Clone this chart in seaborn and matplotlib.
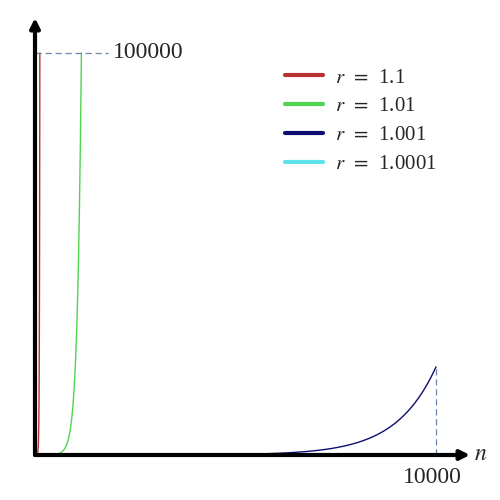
import numpy as np
import pandas as pd
import seaborn as sns
import matplotlib.pyplot as plt
from matplotlib.lines import Line2D

# Growth ratios shown in the legend and the plotted domain
r_values = [1.1, 1.01, 1.001, 1.0001]
labels = [r"$r\ \,=\ \,$1.1", r"$r\ \,=\ \,$1.01",
          r"$r\ \,=\ \,$1.001", r"$r\ \,=\ \,$1.0001"]
colors = ["#b83232", "#4fd44f", "#0d0d70", "#5fe3ea"]
n_max = 10000
y_cap = 100000

sns.set_style("white")
plt.rcParams["font.family"] = ["Liberation Serif", "DejaVu Serif"]
plt.rcParams["mathtext.fontset"] = "stix"

# Build long-form table: y = r**n, cut where it leaves the top of the chart
rows = []
for r, lab in zip(r_values, labels):
    n_top = min(n_max, np.log(y_cap) / np.log(r))
    n = np.append(np.arange(0, int(n_top) + 1, 1.0), n_top)
    rows.append(pd.DataFrame({"n": n, "y": np.power(r, n), "label": lab}))
df = pd.concat(rows, ignore_index=True)

fig = plt.figure(figsize=(5, 5), dpi=100)
ax = fig.add_axes([0.07, 0.09, 0.87, 0.874])

sns.lineplot(data=df, x="n", y="y", hue="label", palette=colors,
             linewidth=1, legend=False, ax=ax, sort=False)

ax.set_xlim(0, 10848)
ax.set_ylim(0, 108700)
for s in ax.spines.values():
    s.set_visible(False)
ax.set_xticks([])
ax.set_yticks([])
ax.set_xlabel("")
ax.set_ylabel("")

# dashed guides
y_end = 1.001 ** n_max
ax.plot([0, 1820], [y_cap, y_cap], ls=(0, (5, 3)), color="#6b86a8", lw=0.9)
ax.plot([n_max, n_max], [0, y_end], ls=(0, (5, 3)), color="#6b86a8", lw=0.9)

# axes with arrows
ax.annotate("", xy=(10848, 0), xytext=(0, 0),
            arrowprops=dict(arrowstyle="-|>", lw=3, color="black",
                            mutation_scale=14, shrinkA=0, shrinkB=0),
            annotation_clip=False)
ax.annotate("", xy=(0, 108700), xytext=(0, 0),
            arrowprops=dict(arrowstyle="-|>", lw=3, color="black",
                            mutation_scale=14, shrinkA=0, shrinkB=0),
            annotation_clip=False)

ax.text(1950, y_cap, "100000", fontsize=17, va="center", ha="left")
ax.text(n_max - 100, -3000, "10000", fontsize=17, va="top", ha="center")
ax.text(10950, 0, "$n$", fontsize=17, va="center", ha="left")

handles = [Line2D([0], [0], color=c, lw=3) for c in colors]
ax.legend(handles, labels, loc="upper left", bbox_to_anchor=(0.57, 0.864),
          bbox_transform=fig.transFigure, borderpad=0, borderaxespad=0,
          frameon=False, fontsize=15, handlelength=1.8, handletextpad=0.6,
          labelspacing=0.44)

fig.savefig("out.png", dpi=100)
